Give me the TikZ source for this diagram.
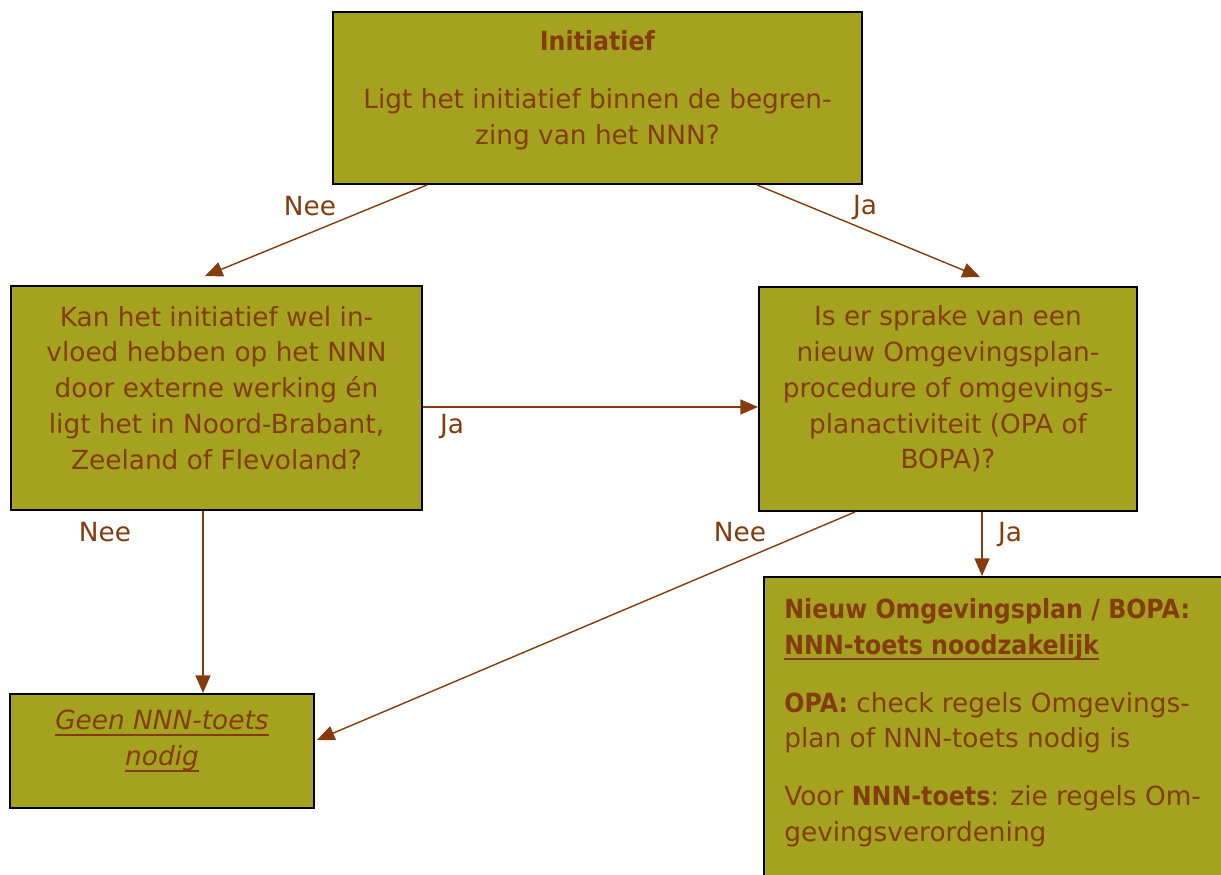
\documentclass[tikz,border=0pt]{standalone}
\usepackage{fontspec}
\setmainfont{DejaVu Sans}[BoldFeatures={FakeStretch=0.9}]
\usetikzlibrary{calc}
\usetikzlibrary{arrows.meta}
\usetikzlibrary{positioning}
\definecolor{olijf}{RGB}{165,162,31}
\definecolor{bruin}{RGB}{132,60,12}
\newcommand{\onderstreep}[1]{\setbox0=\hbox{#1}\leavevmode\rlap{\copy0}\rule[-3.5pt]{\wd0}{1.1pt}}
\tikzset{%
	>={Triangle[width=8.5pt,length=10pt]},
  	% Specifications for style of nodes:
	base/.style = {rectangle, draw=black, line width=1.1pt, fill=olijf,
				   inner sep=0pt},
	tekst/.style = {inner sep=0pt, align=center, text=bruin,
					font=\fontsize{15}{20.4}\selectfont},
	keuze/.style = {tekst},
	pijl/.style = {->, draw=bruin, line width=0.8pt},
}

\begin{document}
\begin{tikzpicture}
	\useasboundingbox (0,0) rectangle (24.42,17.5);
	\clip (0,0) rectangle (24.42,17.5);

  	% Specification of boxes (position, size)

	\node (initiatief)	[base, minimum width=10.58cm, minimum height=3.44cm] at (11.95,15.54) {};
	\node (kanBox)		[base, minimum width=8.22cm, minimum height=4.48cm] at (4.33,9.54) {};
	\node (opaBox)		[base, minimum width=7.56cm, minimum height=4.48cm] at (18.96,9.52) {};
	\node (geenBox)		[base, minimum width=6.08cm, minimum height=2.28cm] at (3.24,2.48) {};
	\node (nieuwBox)	[base, minimum width=10cm, minimum height=8cm, anchor=north west] at (15.26,5.98) {};

	% Texts in the boxes

	\node (initiatiefTekst)	[tekst] at ([yshift=0.16cm]initiatief.center)
		{\textbf{Initiatief}\\[12.6pt] Ligt het initiatief binnen de begren-\\zing van het NNN?};
	\node (kanTekst)	[tekst] at ([yshift=0.2cm]kanBox.center)
		{Kan het initiatief wel in-\\vloed hebben op het NNN\\door externe werking én\\ligt het in Noord-Brabant,\\Zeeland of Flevoland?};
	\node (opaTekst)	[tekst] at ([yshift=0.2cm]opaBox.center)
		{Is er sprake van een\\nieuw Omgevingsplan-\\procedure of omgevings-\\planactiviteit (OPA of\\BOPA)?};
	\node (geenTekst)	[tekst] at ([yshift=0.2cm]geenBox.center)
		{\onderstreep{\itshape Geen NNN-toets}\\\onderstreep{\itshape nodig}};
	\node (nieuwTekst)	[tekst, align=left, anchor=north west] at ([xshift=0.42cm, yshift=-0.44cm]nieuwBox.north west)
		{\textbf{Nieuw Omgevingsplan / BOPA:}\\\onderstreep{\bfseries NNN-toets noodzakelijk}\\[12.5pt]
		 \textbf{OPA:} check regels Omgevings-\\plan of NNN-toets nodig is\\[12.5pt]
		 Voor \textbf{NNN-toets}: zie regels Om-\\gevingsverordening};

    % Specification of lines between boxes

	\draw[pijl]	([xshift=1.9cm]initiatief.south west) -- ([xshift=-0.23cm, yshift=0.18cm]kanBox.north);
	\draw[pijl]	([xshift=-2.12cm]initiatief.south east) -- ([xshift=0.64cm, yshift=0.18cm]opaBox.north);
	\draw[pijl]	([yshift=-0.18cm]kanBox.east) -- ([yshift=-0.18cm]kanBox.east -| opaBox.west);
	\draw[pijl]	([xshift=-0.27cm]kanBox.south) -- ([xshift=-0.27cm]kanBox.south |- geenBox.north);
	\draw[pijl]	([xshift=-1.86cm]opaBox.south) -- ([xshift=0.04cm, yshift=0.22cm]geenBox.east);
	\draw[pijl]	([xshift=0.68cm]opaBox.south) -- ([xshift=0.68cm]opaBox.south |- nieuwBox.north);

	% Labels on the lines

	\node (neeBoven)	[keuze] at (6.2,13.38)	{Nee};
	\node (jaBoven)		[keuze] at (17.3,13.34)	{Ja};
	\node (jaMidden)	[keuze] at (9.04,8.96)	{Ja};
	\node (neeLinks)	[keuze] at (2.1,6.86)	{Nee};
	\node (neeRechts)	[keuze] at (14.8,6.86)	{Nee};
	\node (jaRechts)	[keuze] at (20.2,6.8)	{Ja};

\end{tikzpicture}
\end{document}
